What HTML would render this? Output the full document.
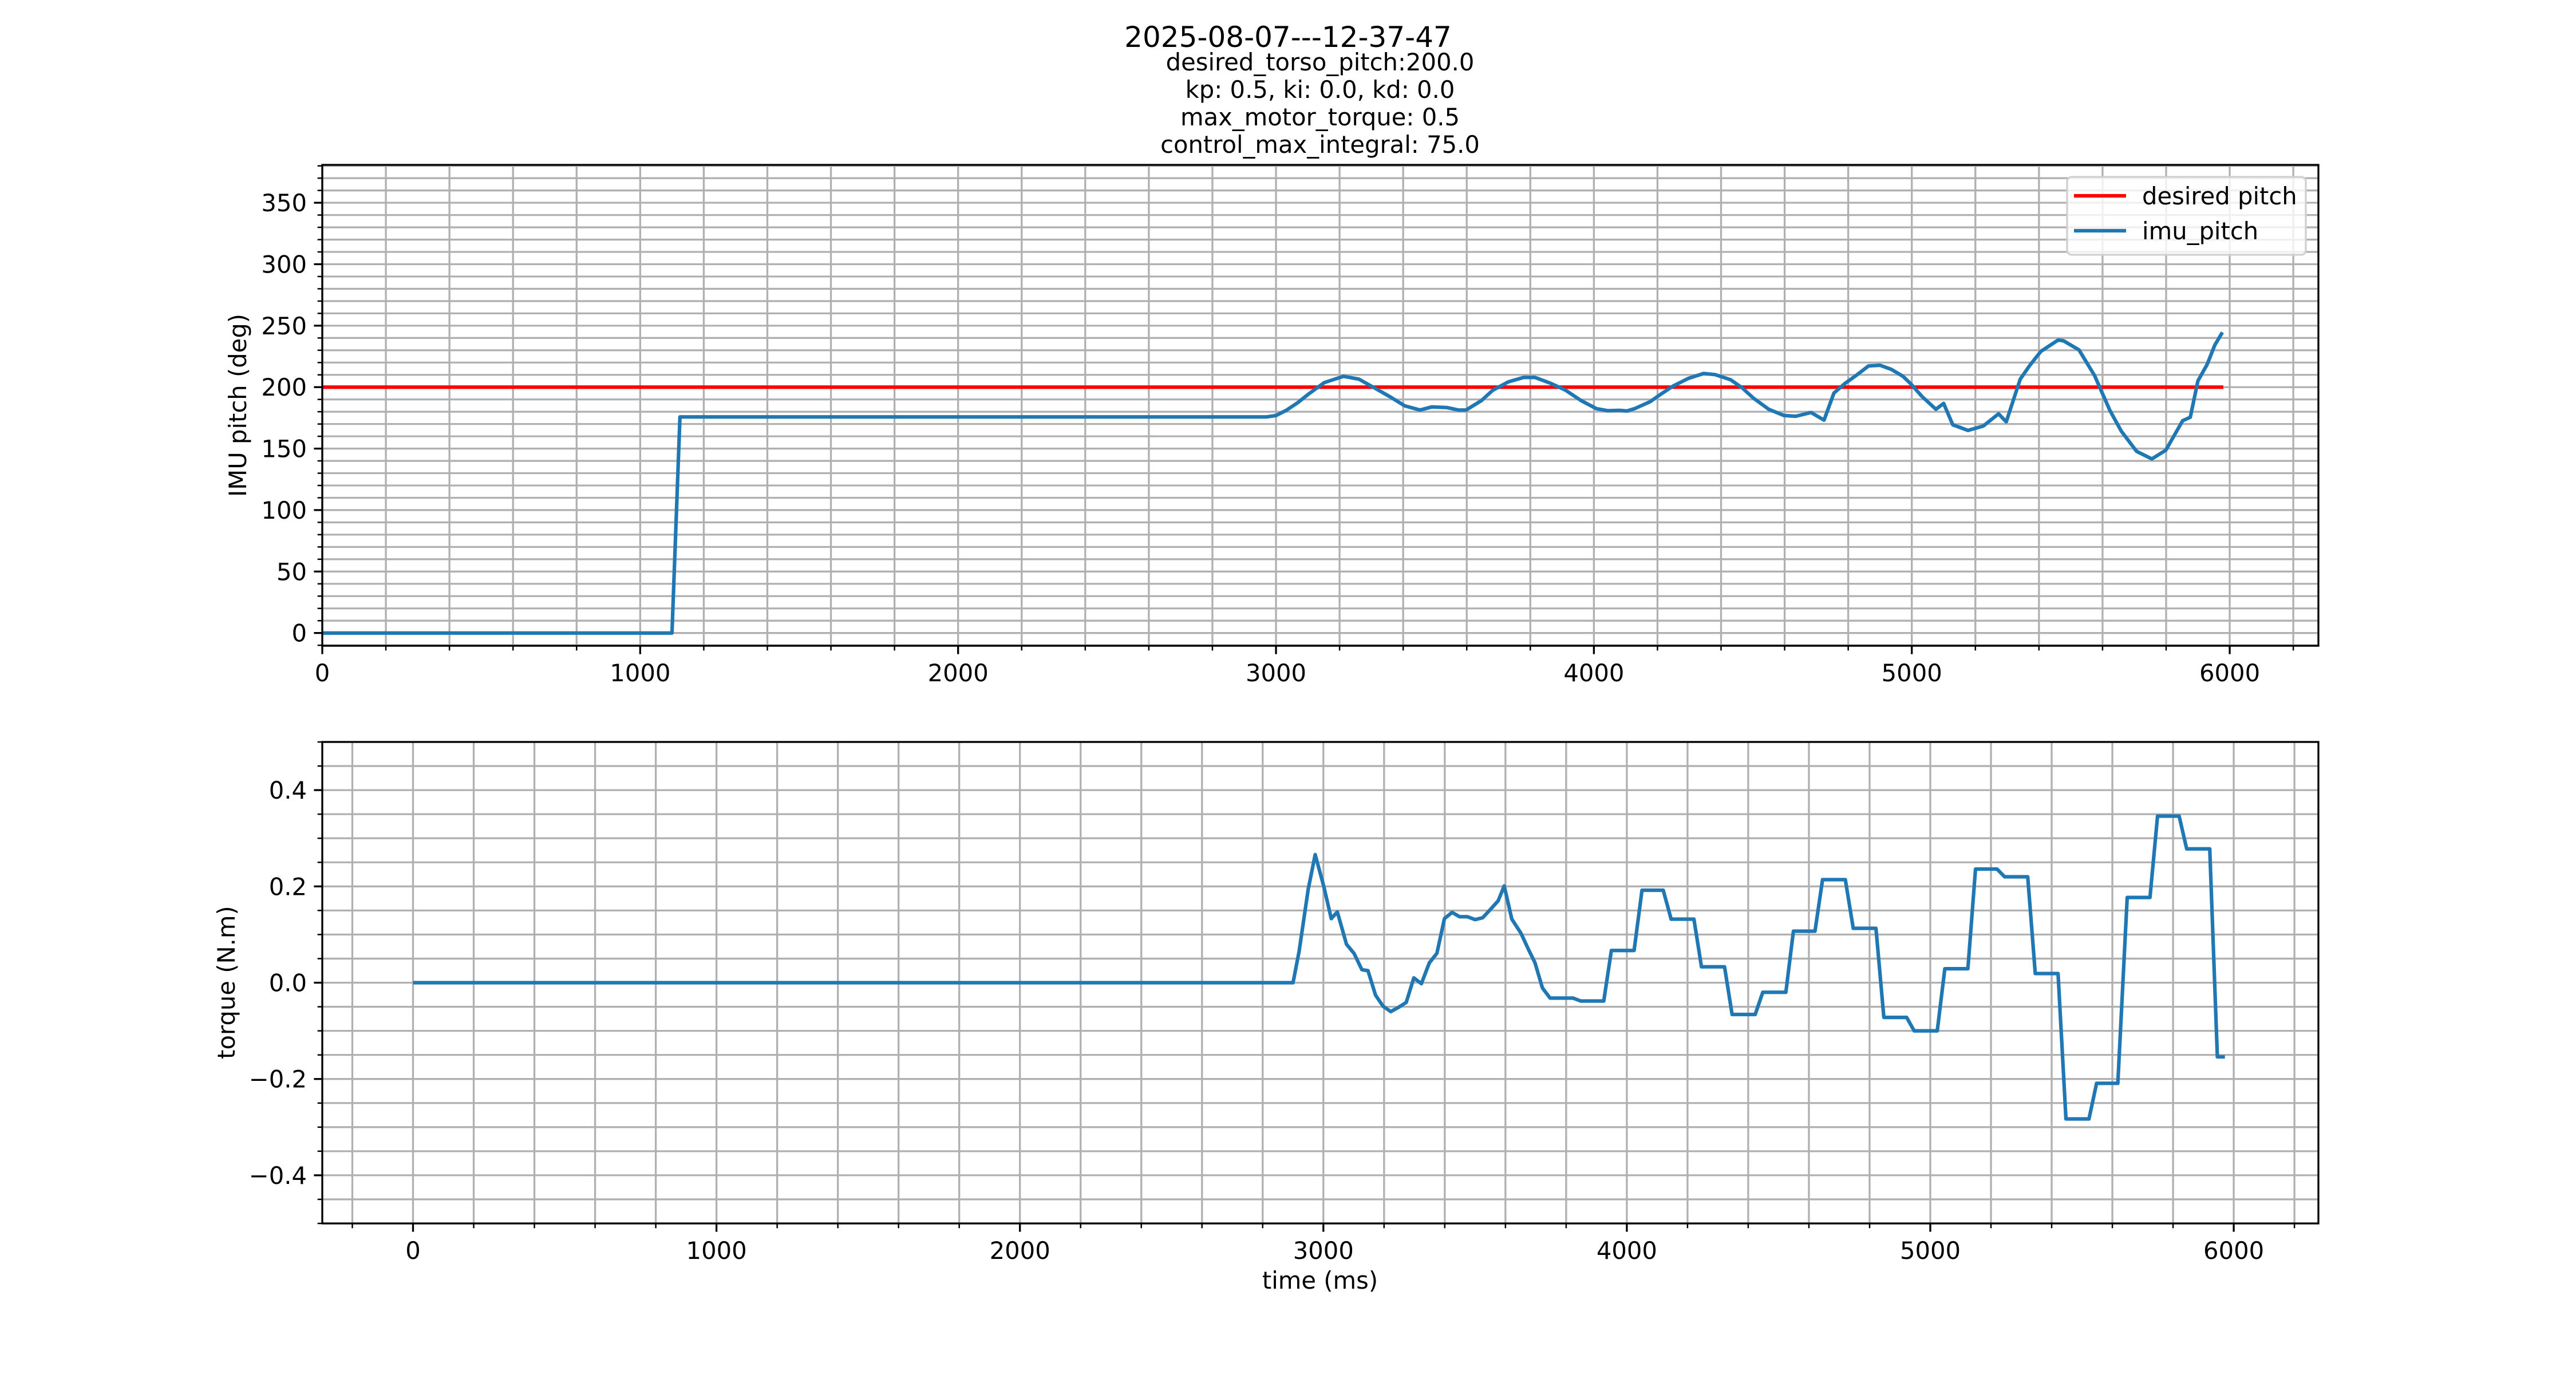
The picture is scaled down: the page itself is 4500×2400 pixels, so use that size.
<!DOCTYPE html>
<html><head><meta charset="utf-8">
<style>
html,body{margin:0;padding:0;background:#fff;}
svg{display:block;font-family:"DejaVu Sans","Liberation Sans",sans-serif;}
</style></head>
<body>
<svg id="fig" width="4500" height="2400" viewBox="0 0 4500 2400" xmlns="http://www.w3.org/2000/svg">
<rect width="4500" height="2400" fill="#fff"/>
<text x="2250" y="82" font-size="50" text-anchor="middle">2025-08-07---12-37-47</text>
<g font-size="41.7" text-anchor="middle">
<text x="2306" y="123">desired_torso_pitch:200.0</text>
<text x="2306" y="171">kp: 0.5, ki: 0.0, kd: 0.0</text>
<text x="2306" y="219">max_motor_torque: 0.5</text>
<text x="2306" y="267">control_max_integral: 75.0</text>
</g>
<g id="topChart"></g>
<g id="botChart"></g>
</svg>
<script>
const pitchDesiredX = [0, 5980];
const pitchDesiredY = [200, 200];
const imuX = [0,1100,1125,2971,3000,3032,3068,3104,3152,3212,3261,3309,3357,3405,3453,3490,3538,3574,3598,3646,3682,3731,3779,3815,3863,3911,3960,4008,4044,4080,4104,4128,4177,4213,4249,4297,4345,4381,4430,4466,4502,4550,4598,4635,4683,4724,4755,4791,4827,4864,4900,4936,4972,4996,5032,5076,5100,5129,5177,5225,5273,5297,5341,5370,5406,5461,5478,5526,5575,5623,5659,5707,5755,5799,5852,5876,5900,5929,5953,5977];
const imuY = [0,0,175.8,175.8,176.9,181.1,187.3,194.7,203.7,208.8,206.5,199.5,192.4,184.8,181.4,183.9,183.4,181.4,181.4,189.0,197.5,204.3,207.9,207.9,203.2,197.5,189.0,182.5,180.8,181.1,180.6,182.5,188.2,194.7,200.9,207.1,211.1,210.2,206.0,199.5,191.0,182.0,176.9,176.3,179.4,173.2,195.2,203.2,209.9,217.3,217.8,214.4,208.8,202.9,192.4,182.0,186.8,169.3,164.8,168.4,178.3,171.8,206.5,217.3,229.1,238.4,237.6,230.3,209.4,181.1,164.2,147.8,141.6,148.7,172.7,175.5,205.1,218.4,234.2,244.6];
const torqueX = [0,2900,2920,2950,2973,3001,3026,3046,3076,3101,3127,3147,3172,3197,3222,3248,3273,3298,3323,3349,3374,3399,3424,3449,3475,3500,3525,3550,3576,3596,3621,3651,3676,3697,3722,3747,3823,3848,3924,3949,4024,4050,4120,4146,4221,4246,4322,4347,4423,4448,4524,4549,4620,4645,4720,4746,4821,4847,4922,4947,5023,5048,5124,5149,5220,5245,5321,5346,5421,5447,5523,5548,5618,5649,5724,5749,5820,5845,5921,5946,5971];
const torqueY = [0,0,0.065,0.194,0.266,0.201,0.133,0.147,0.080,0.061,0.027,0.025,-0.026,-0.049,-0.060,-0.051,-0.041,0.010,-0.002,0.041,0.061,0.133,0.146,0.137,0.137,0.131,0.135,0.152,0.170,0.201,0.132,0.103,0.069,0.042,-0.011,-0.032,-0.032,-0.038,-0.038,0.067,0.067,0.192,0.192,0.132,0.132,0.033,0.033,-0.066,-0.066,-0.020,-0.020,0.107,0.107,0.214,0.214,0.113,0.113,-0.072,-0.072,-0.100,-0.100,0.029,0.029,0.236,0.236,0.220,0.220,0.019,0.019,-0.283,-0.283,-0.209,-0.209,0.177,0.177,0.346,0.346,0.278,0.278,-0.154,-0.154];
const topXTicks = [0,1000,2000,3000,4000,5000,6000];
const topYTicks = [0,50,100,150,200,250,300,350];
const botXTicks = [0,1000,2000,3000,4000,5000,6000];
const botYTicks = [-0.4,-0.2,0.0,0.2,0.4];
const botYLabels = ["\u22120.4","\u22120.2","0.0","0.2","0.4"];

const NS="http://www.w3.org/2000/svg";
function mk(tag, attrs, parent){const e=document.createElementNS(NS,tag);for(const k in attrs)e.setAttribute(k,attrs[k]);parent.appendChild(e);return e;}

function drawAxes(g, cfg){
  const {L,R,T,B,x0,x1,y0,y1}=cfg;
  const sx=v=>L+(v-x0)/(x1-x0)*(R-L);
  const sy=v=>B-(v-y0)/(y1-y0)*(B-T);
  const grid=mk('g',{stroke:'#b0b0b0','stroke-width':3.3},g);
  
  
  for(let v=Math.ceil(x0/cfg.xMinor)*cfg.xMinor; v<=x1; v+=cfg.xMinor){
    const x=sx(v); mk('line',{x1:x,x2:x,y1:T,y2:B},grid);
    mk('line',{x1:x,x2:x,y1:B,y2:B+8.3,stroke:'#000','stroke-width':2.5},g);
  }
  for(let i=Math.ceil(y0/cfg.yMinor-1e-6); i*cfg.yMinor<=y1+1e-9; i++){
    const y=sy(i*cfg.yMinor); mk('line',{x1:L,x2:R,y1:y,y2:y},grid);
    mk('line',{x1:L-8.3,x2:L,y1:y,y2:y,stroke:'#000','stroke-width':2.5},g);
  }
  const ticks=mk('g',{'font-size':41.7},g);
  
  
  cfg.xTicks.forEach(v=>{const x=sx(v);
    mk('line',{x1:x,x2:x,y1:B,y2:B+14.6,stroke:'#000','stroke-width':3.3},g);
    const t=mk('text',{x:x,y:B+62,'text-anchor':'middle'},ticks);t.textContent=String(v);});
  cfg.yTicks.forEach((v,i)=>{const y=sy(v);
    mk('line',{x1:L-14.6,x2:L,y1:y,y2:y,stroke:'#000','stroke-width':3.3},g);
    const t=mk('text',{x:L-27,y:y+15,'text-anchor':'end'},ticks);t.textContent=cfg.yLabels?cfg.yLabels[i]:String(v);});
  return {sx,sy};
}
function line(g,xs,ys,sx,sy,color,name){
  const d=xs.map((v,i)=>(i?'L':'M')+sx(v).toFixed(1)+' '+sy(ys[i]).toFixed(1)).join(' ');
  const p=mk('path',{d:d,fill:'none',stroke:color,'stroke-width':6.25,'stroke-linejoin':'round'},g);
  
  
}
// top chart
const topG=document.getElementById('topChart');
const A=drawAxes(topG,{L:563,R:4050,T:288,B:1128,x0:0,x1:6279,y0:-10.4,y1:380.8,xMinor:200,yMinor:10,xTicks:topXTicks,yTicks:topYTicks});
line(topG,pitchDesiredX,pitchDesiredY,A.sx,A.sy,'#ff0000','desired-pitch-line');
line(topG,imuX,imuY,A.sx,A.sy,'#1f77b4','imu-pitch-line');
mk('rect',{x:563,y:288,width:3487,height:840,fill:'none',stroke:'#000','stroke-width':3.3},topG);
const yl=mk('text',{x:0,y:0,'font-size':41.7,'text-anchor':'middle',transform:'translate(430,708) rotate(-90)'},topG);
yl.textContent='IMU pitch (deg)';


const leg=mk('g',{},topG);


mk('rect',{x:3611,y:309,width:417,height:136,rx:8,fill:'#fff','fill-opacity':0.8,stroke:'#d0d0d0','stroke-width':3.3},leg);
mk('line',{x1:3623,x2:3714,y1:342,y2:342,stroke:'#ff0000','stroke-width':6.25},leg);
mk('line',{x1:3623,x2:3714,y1:403,y2:403,stroke:'#1f77b4','stroke-width':6.25},leg);
const lt1=mk('text',{x:3742,y:357,'font-size':41.7},leg);lt1.textContent='desired pitch';


const lt2=mk('text',{x:3742,y:418,'font-size':41.7},leg);lt2.textContent='imu_pitch';


// bottom chart
const botG=document.getElementById('botChart');
const Bx=drawAxes(botG,{L:563,R:4050,T:1296,B:2137,x0:-299,x1:6279,y0:-0.5,y1:0.5,xMinor:200,yMinor:0.05,xTicks:botXTicks,yTicks:botYTicks,yLabels:botYLabels});
line(botG,torqueX,torqueY,Bx.sx,Bx.sy,'#1f77b4','torque-line');
mk('rect',{x:563,y:1296,width:3487,height:841,fill:'none',stroke:'#000','stroke-width':3.3},botG);
const yl2=mk('text',{x:0,y:0,'font-size':41.7,'text-anchor':'middle',transform:'translate(410,1716) rotate(-90)'},botG);
yl2.textContent='torque (N.m)';


const xl=mk('text',{x:2306,y:2251,'font-size':41.7,'text-anchor':'middle'},botG);
xl.textContent='time (ms)';


</script>
</body></html>
